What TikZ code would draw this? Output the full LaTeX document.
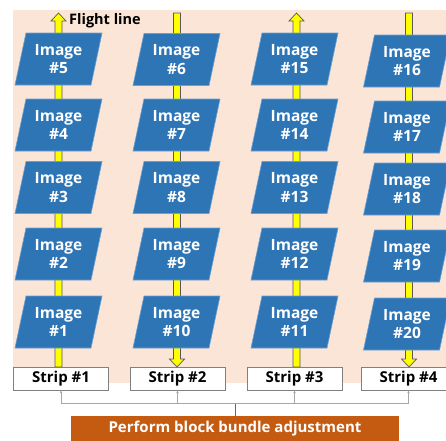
\documentclass[tikz,border=0pt]{standalone}
\usepackage{fontspec}
\setmainfont{Open Sans}[BoldFont={Open Sans Bold}]
\usetikzlibrary{arrows.meta}
\definecolor{peach}{HTML}{FBE5D6}
\definecolor{imgblue}{HTML}{2E75B6}
\definecolor{imgedge}{HTML}{6A9FD4}
\definecolor{baorange}{HTML}{C55A11}
\definecolor{barfill}{HTML}{FFFF00}
\definecolor{baredge}{HTML}{595959}
\tikzset{
  imgtext/.style={text=white, font=\fontsize{15.5}{18.5}\selectfont\bfseries, align=center, inner sep=0pt},
  imgshape/.style={fill=imgblue, draw=imgedge, line width=0.6pt},
  flightbar/.style={fill=barfill, draw=baredge, line width=0.7pt},
  stripbox/.style={draw=black!50, fill=white, line width=0.7pt, minimum width=95pt, minimum height=23pt, inner sep=0pt, font=\fontsize{15}{17}\selectfont\bfseries},
  bundlebox/.style={fill=baorange, text=white, minimum width=328pt, minimum height=26pt, inner sep=0pt, font=\fontsize{15}{17}\selectfont\bfseries},
  bracket/.style={draw=black!35, line width=0.7pt},
  stem/.style={draw=black!60, line width=0.7pt},
  tip/.style={-{Stealth[length=3pt,width=2.5pt]}}
}
% parallelogram image tile: name, x, y, number
\newcommand{\imgtile}[4]{%
  \filldraw[imgshape] (#2-43.5,#3+26) -- (#2+32.5,#3+26) -- (#2+43.5,#3-26) -- (#2-32.5,#3-26) -- cycle;
  \node[imgtext] (#1) at (#2,#3) {Image\\\##4};
}
% flight line bar with arrow head at the top
\newcommand{\barup}[3]{% x, top, bottom
  \filldraw[flightbar] (#1-3.5,#3) -- (#1-3.5,#2+8) -- (#1-7.5,#2+8) -- (#1,#2) -- (#1+7.5,#2+8) -- (#1+3.5,#2+8) -- (#1+3.5,#3) -- cycle;
}
% flight line bar with arrow head at the bottom
\newcommand{\bardown}[3]{% x, top, bottom
  \filldraw[flightbar] (#1-3.5,#2) -- (#1-3.5,#3-8) -- (#1-7.5,#3-8) -- (#1,#3) -- (#1+7.5,#3-8) -- (#1+3.5,#3-8) -- (#1+3.5,#2) -- cycle;
}
\begin{document}
\begin{tikzpicture}[x=1pt, y=-1pt]
\useasboundingbox (0,0) rectangle (446,440);
\begin{scope}
\clip (0,0) rectangle (446,440);
% background panel
\fill[peach] (13,10) rectangle (446,383);

% flight lines
\barup{58.5}{13}{367}
\bardown{177}{13}{367}
\barup{296.5}{13}{367}
\bardown{409}{13}{367}

\node[anchor=west, font=\fontsize{14.5}{16}\selectfont\bfseries, inner sep=0pt] (fl) at (69,21) {Flight line};

% strip 1
\imgtile{i5}{58.5}{59}{5}
\imgtile{i4}{58.5}{125}{4}
\imgtile{i3}{58.5}{187.5}{3}
\imgtile{i2}{58.5}{254}{2}
\imgtile{i1}{58.5}{322}{1}
% strip 2
\imgtile{i6}{176.5}{59.5}{6}
\imgtile{i7}{176.5}{125}{7}
\imgtile{i8}{176.5}{187.5}{8}
\imgtile{i9}{176.5}{254}{9}
\imgtile{i10}{176.5}{322}{10}
% strip 3
\imgtile{i15}{294.5}{59}{15}
\imgtile{i14}{294.5}{125}{14}
\imgtile{i13}{294.5}{187.5}{13}
\imgtile{i12}{294.5}{254}{12}
\imgtile{i11}{294.5}{322}{11}
% strip 4
\imgtile{i16}{407}{61}{16}
\imgtile{i17}{407}{127}{17}
\imgtile{i18}{407}{189}{18}
\imgtile{i19}{407}{256}{19}
\imgtile{i20}{407}{324}{20}

% strip labels
\node[stripbox] (s1) at (61,378.5) {Strip \#1};
\node[stripbox] (s2) at (177.5,378.5) {Strip \#2};
\node[stripbox] (s3) at (294.5,378.5) {Strip \#3};
\node[stripbox] (s4) at (408.5,378.5) {Strip \#4};

% block adjustment box
\node[bundlebox] (ba) at (235,429) {Perform block bundle adjustment};

% bracket joining the strips
\coordinate (j) at (235,403);
\draw[stem] (j) -- (ba.north);
\draw[bracket] (j -| s1.south) -- (j -| s4.south);
\foreach \s in {s1,s2,s3,s4}
  \draw[bracket, tip] (j -| \s.south) -- (\s.south);
\end{scope}
\end{tikzpicture}
\end{document}
